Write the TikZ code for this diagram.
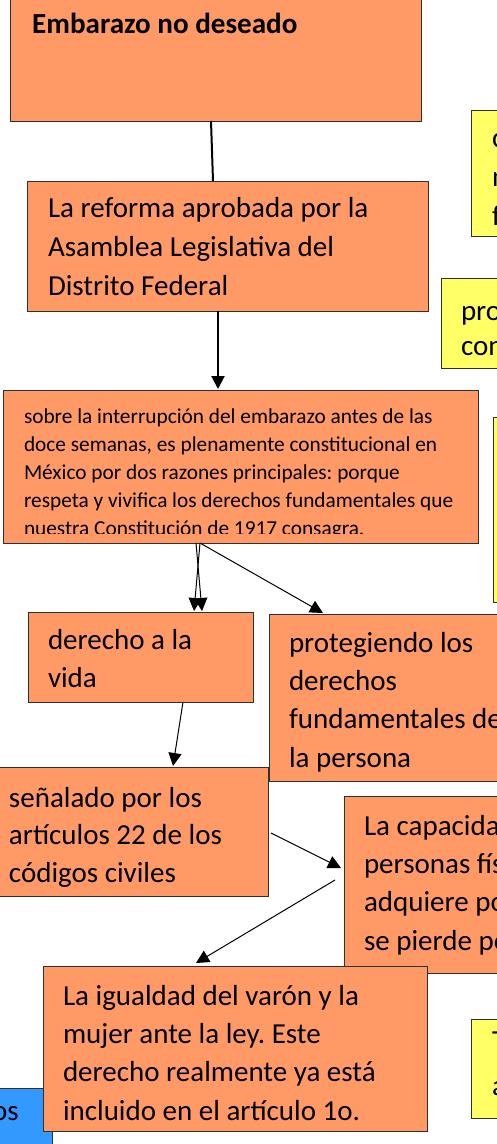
\documentclass[tikz,border=0pt]{standalone}
\usepackage{fontspec}
\setmainfont{Carlito}
\usetikzlibrary{arrows.meta,calc}
\definecolor{orangefill}{HTML}{FF9966}
\definecolor{yellowfill}{HTML}{FFFF66}
\definecolor{bluefill}{HTML}{3399FF}
\definecolor{boxline}{HTML}{303030}
\newcommand{\natspacing}{\frenchspacing\spaceskip=0pt\xspaceskip=0pt\relax}
\begin{document}
\begin{tikzpicture}[x=1pt,y=-1pt,
  abox/.style={draw=boxline,line width=1pt,anchor=north west,inner sep=0pt,outer sep=0pt},
  obox/.style={abox,fill=orangefill},
  ybox/.style={abox,fill=yellowfill},
  bbox/.style={abox,fill=bluefill},
  txt/.style={anchor=base west,inner sep=0pt,outer sep=0pt,align=left,text width=700pt,
    execute at begin node=\natspacing,
    font=\fontsize{29}{38.4}\selectfont},
  smalltxt/.style={txt,font=\fontsize{21.3}{28}\selectfont},
  thick link/.style={line width=2pt},
  thin link/.style={line width=1pt},
  tip/.style={-{Triangle[length=13pt,width=13pt]}}
]
\useasboundingbox (0,0) rectangle (497,1144);
\clip (0,0) rectangle (497,1144);

% yellow boxes on the right
\node[ybox,minimum width=100pt,minimum height=126pt] (y1) at (471,110) {};
\node[ybox,minimum width=100pt,minimum height=90pt] (y2) at (441,278) {};
\node[ybox,minimum width=50pt,minimum height=185pt] (y3) at (493,417) {};
\node[ybox,minimum width=80pt,minimum height=99pt] (y4) at (471,1019) {};
\node[txt,font=\fontsize{29}{39}\selectfont] (ty1) at (492,147) {conforme\\normas\\fundamentales};
\node[txt,font=\fontsize{29}{35}\selectfont] (ty2) at (461,320) {protegido\\constitucional};
\node[txt,font=\fontsize{29}{45}\selectfont] (ty4) at (492,1050) {Todo\\a};

% blue box
\node[bbox,minimum width=57pt,minimum height=80pt] (bl) at (-5,1088) {};
\node[anchor=base east,inner sep=0pt,font=\fontsize{29}{38.4}\selectfont] (tbl) at (19,1120) {Derechos};

% orange boxes
\node[obox,minimum width=411pt,minimum height=141pt] (b1) at (10,-20) {};
\node[anchor=base west,inner sep=0pt,font=\fontsize{29.1}{34}\selectfont\bfseries] (t1) at (32,33) {Embarazo no deseado};

\node[obox,minimum width=401pt,minimum height=130pt] (b2) at (27,181) {};
\node[txt,font=\fontsize{29}{39}\selectfont] (t2) at (48,217) {La reforma aprobada por la\\Asamblea Legislativa del\\Distrito Federal};

\node[obox,minimum width=475pt,minimum height=153pt] (b3) at (3,390) {};
\begin{scope}
\clip (0,390) rectangle (497,533);
\node[smalltxt] (t3) at (24,423) {sobre la interrupción del embarazo antes de las\\doce semanas, es plenamente constitucional en\\México por dos razones principales: porque\\respeta y vivifica los derechos fundamentales que\\nuestra Constitución de 1917 consagra.};
\end{scope}

\node[obox,minimum width=225pt,minimum height=90pt] (b4) at (28,612) {};
\node[txt] (t4) at (48,649) {derecho a la\\vida};

\node[obox,minimum width=260pt,minimum height=167pt] (b5) at (269,614) {};
\node[txt] (t5) at (289,652) {protegiendo los\\derechos\\fundamentales de\\la persona};

\node[obox,minimum width=273pt,minimum height=129pt] (b6) at (-5,767) {};
\node[txt,font=\fontsize{29}{37.5}\selectfont] (t6) at (9,807) {señalado por los\\artículos 22 de los\\códigos civiles};

\node[obox,minimum width=200pt,minimum height=177pt] (b7) at (344,796) {};
\node[txt] (t7) at (364,835) {La capacidad jurídica\\personas físicas se\\adquiere por el nacimiento\\se pierde por la muerte};

\node[obox,minimum width=384pt,minimum height=165pt] (b8) at (43,966) {};
\node[txt] (t8) at (63,1005) {La igualdad del varón y la\\mujer ante la ley. Este\\derecho realmente ya está\\incluido en el artículo 1o.};

% connectors
\coordinate (c1a) at ($(b1.south west)+(201,0)$);
\coordinate (c1b) at ($(b2.north west)+(186,0)$);
\draw[thick link] (c1a) -- (c1b);

\coordinate (c2a) at ($(b2.south west)+(191,0)$);
\coordinate (c2b) at ($(b3.north west)+(215,-1)$);
\draw[thick link,tip] (c2a) -- (c2b);

\coordinate (c3a) at ($(b3.south west)+(193,0)$);
\coordinate (c3b) at ($(b3.south west)+(197,0)$);
\coordinate (c4a) at ($(b4.north west)+(174,-1)$);
\coordinate (c4b) at ($(b4.north west)+(166,-1)$);
\coordinate (c5a) at ($(b5.north west)+(54,-1)$);
\draw[thin link,tip] (c3a) -- (c4a);
\draw[thin link,tip] (c3b) -- (c4b);
\draw[thin link,tip] (c3b) -- (c5a);

\coordinate (c6a) at ($(b4.south west)+(155,0)$);
\coordinate (c6b) at ($(b6.north west)+(178,-1)$);
\draw[thin link,tip] (c6a) -- (c6b);

\coordinate (c7a) at ($(b6.north east)+(3,66)$);
\coordinate (c7b) at ($(b7.north west)+(-3,72)$);
\draw[thin link,tip] (c7a) -- (c7b);

\coordinate (c8a) at ($(b7.north west)+(-9,84)$);
\coordinate (c8b) at ($(b8.north west)+(153,-3)$);
\draw[thin link,tip] (c8a) -- (c8b);
\end{tikzpicture}
\end{document}
